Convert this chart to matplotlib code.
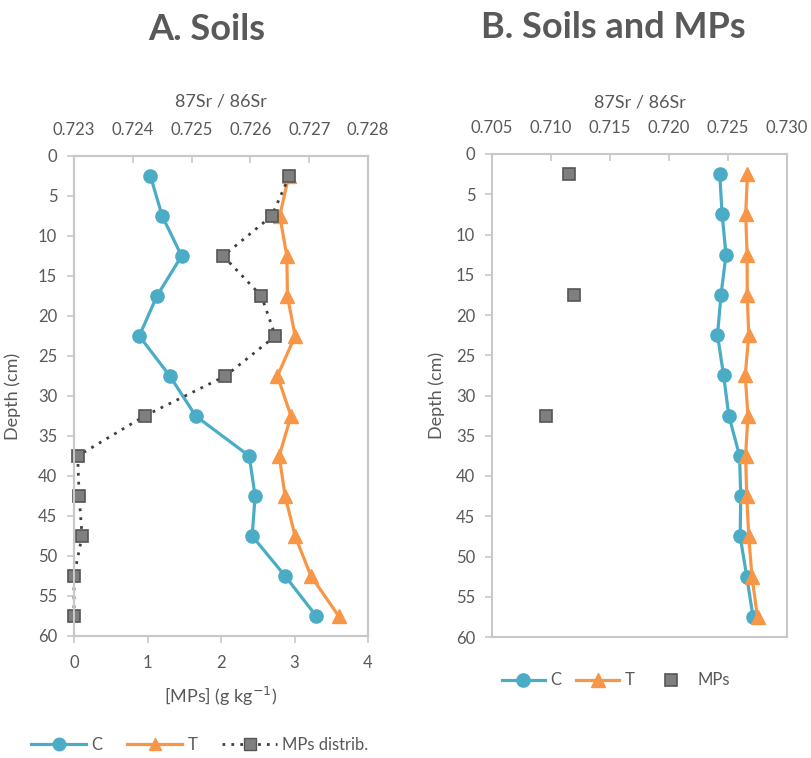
import matplotlib.pyplot as plt
from matplotlib.lines import Line2D

plt.rcParams['font.family'] = ['Lato', 'DejaVu Sans']

# data
depth = [2.5, 7.5, 12.5, 17.5, 22.5, 27.5, 32.5, 37.5, 42.5, 47.5, 52.5, 57.5]
sr_c = [0.72430, 0.72450, 0.72483, 0.72441, 0.72411, 0.72463, 0.72507,
        0.72598, 0.72608, 0.72603, 0.72659, 0.72712]
sr_t = [0.72665, 0.72650, 0.72662, 0.72663, 0.72676, 0.72646, 0.72669,
        0.72649, 0.72659, 0.72676, 0.72703, 0.72750]
mps_conc = [2.93, 2.69, 2.03, 2.55, 2.74, 2.06, 0.96, 0.05, 0.07, 0.11, 0.0, 0.0]
mps_depth = [2.5, 17.5, 32.5]
sr_mps = [0.71155, 0.71194, 0.70954]

blue = '#4BACC6'
orange = '#F79646'
grey = '#7F7F7F'
txt = '#595959'
spine = '#C8C8C8'

W, H = 811, 758
fig = plt.figure(figsize=(W / 100, H / 100), dpi=100)


def box(l, t, r, b):
    return [l / W, 1 - b / H, (r - l) / W, (b - t) / H]


def style(ax):
    for s in ax.spines.values():
        s.set_color(spine)
        s.set_linewidth(1.5)
    ax.tick_params(colors=spine, labelcolor=txt, labelsize=12, width=1.2, length=5)
    ax.tick_params(axis='y', pad=7)


# ---------------- A. Soils ----------------
ax = fig.add_axes(box(74, 156, 368, 636))
ax2 = ax.twiny()

ax.plot(sr_c, depth, color=blue, lw=2.3, marker='o', ms=9.5, zorder=3)
ax.plot(sr_t, depth, color=orange, lw=2.3, marker='^', ms=9.5, zorder=3)
ax.set_xlim(0.723, 0.728)
ax.set_ylim(60, 0)
ax.set_yticks(range(0, 61, 5))
ax.set_xticks([0.723, 0.724, 0.725, 0.726, 0.727, 0.728])
ax.set_xticklabels(['0.723', '0.724', '0.725', '0.726', '0.727', '0.728'])
ax.xaxis.tick_top()
ax.xaxis.set_label_position('top')
ax.set_xlabel('87Sr / 86Sr', color=txt, fontsize=13, labelpad=11)
ax.set_ylabel('Depth (cm)', color=txt, fontsize=13, labelpad=12)
style(ax)
ax.tick_params(axis='x', direction='in', pad=13)

ax2.plot(mps_conc, depth, color='#404040', lw=2, ls=(0, (1, 2.2)), marker='s', ms=9,
         mfc=grey, mec='#555555', mew=1.2, clip_on=False)
ax2.set_xlim(0, 4)
ax2.set_ylim(60, 0)
ax2.xaxis.tick_bottom()
ax2.xaxis.set_label_position('bottom')
ax2.set_xticks([0, 1, 2, 3, 4])
ax2.set_xlabel('[MPs] (g kg$^{-1}$)', color=txt, fontsize=13, labelpad=10)
style(ax2)
ax2.tick_params(axis='x', pad=9)

fig.text(207 / W, 1 - 30 / H, 'A. Soils', ha='center', va='center',
         fontsize=26, fontweight='bold', color=txt)

h = [Line2D([], [], color=blue, lw=2.3, marker='o', ms=9),
     Line2D([], [], color=orange, lw=2.3, marker='^', ms=9),
     Line2D([], [], color='#404040', lw=2, ls=(0, (1, 2.2)), marker='s', ms=8,
            mfc=grey, mec='#555555')]
fig.legend(h, ['C', 'T', 'MPs distrib.'], loc='center', ncol=3, frameon=False,
           bbox_to_anchor=(200 / W, 1 - 745 / H), fontsize=12, labelcolor=txt,
           handlelength=3.3, columnspacing=1.5, handletextpad=0.3, numpoints=1)

# ---------------- B. Soils and MPs ----------------
bx = fig.add_axes(box(492, 154, 787, 637))
bx.plot(sr_c, depth, color=blue, lw=2.3, marker='o', ms=9.5, label='C')
bx.plot(sr_t, depth, color=orange, lw=2.3, marker='^', ms=9.5, label='T')
bx.plot(sr_mps, mps_depth, ls='none', marker='s', ms=9, mfc=grey, mec='#555555',
        mew=1.2, label='MPs')
bx.set_xlim(0.705, 0.730)
bx.set_ylim(60, 0)
bx.set_yticks(range(0, 61, 5))
bx.set_xticks([0.705, 0.710, 0.715, 0.720, 0.725, 0.730])
bx.set_xticklabels(['0.705', '0.710', '0.715', '0.720', '0.725', '0.730'])
bx.xaxis.tick_top()
bx.xaxis.set_label_position('top')
bx.set_xlabel('87Sr / 86Sr', color=txt, fontsize=13, labelpad=9)
bx.set_ylabel('Depth (cm)', color=txt, fontsize=13, labelpad=8)
style(bx)
bx.tick_params(axis='x', direction='in', pad=13)
bx.legend(loc='center', ncol=3, frameon=False, bbox_to_anchor=(0.42, -0.09),
          fontsize=12, labelcolor=txt, handlelength=2.6, columnspacing=0.9,
          handletextpad=0.3, numpoints=1)

fig.text(613 / W, 1 - 27 / H, 'B. Soils and MPs', ha='center', va='center',
         fontsize=26, fontweight='bold', color=txt)

fig.savefig('out.png', dpi=100)
